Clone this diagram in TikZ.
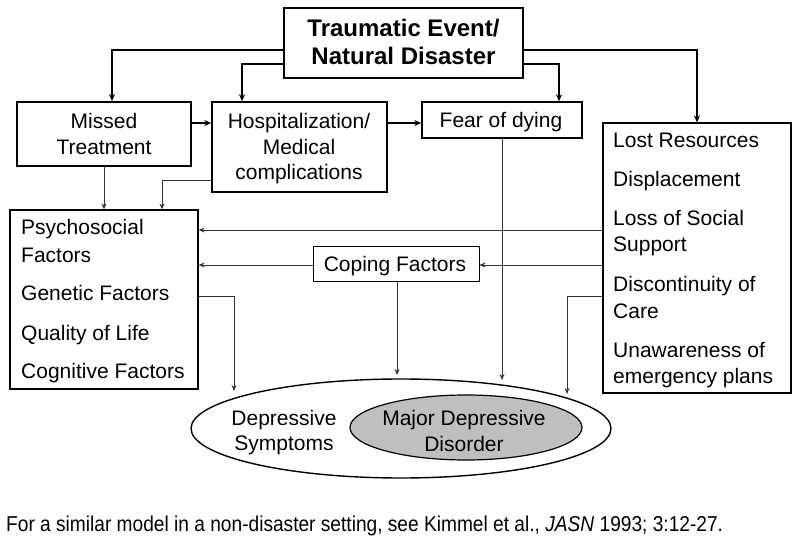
\documentclass[tikz,border=0pt]{standalone}
\usepackage{fontspec}
\setmainfont{Liberation Sans}
\newfontfamily\narrowfont[FakeStretch=0.89]{Liberation Sans}
\usetikzlibrary{shapes.geometric,arrows.meta}
\tikzset{
  box/.style={draw, rectangle, inner sep=0pt, line width=1.2pt},
  lt/.style={anchor=base west, inner sep=0pt, font=\fontsize{21}{25.5}\selectfont},
  ct/.style={anchor=base, inner sep=0pt, font=\fontsize{21}{25.5}\selectfont},
  tt/.style={anchor=base, inner sep=0pt, font=\bfseries\fontsize{24}{28}\selectfont},
  arr/.style={-{Stealth[length=7pt,width=6pt]}, line width=1.4pt},
  arrl/.style={-{Stealth[length=6pt,width=5pt]}, line width=0.9pt, draw=black!80},
}
\begin{document}
\begin{tikzpicture}[x=1pt,y=-1pt]
\useasboundingbox (0,0) rectangle (800,537);
% boxes
\node[box, line width=2.6pt, minimum width=239pt, minimum height=70pt] (T) at (403.5,43) {};
\node[box, line width=1.8pt, minimum width=174pt, minimum height=64pt] (M) at (104,134) {};
\node[box, line width=1.4pt, minimum width=175pt, minimum height=90pt] (H) at (299.5,147) {};
\node[box, line width=1.4pt, minimum width=160pt, minimum height=36pt] (F) at (502,120) {};
\node[box, minimum width=188pt, minimum height=270pt] (L) at (697,258) {};
\node[box, minimum width=188pt, minimum height=179pt] (P) at (104,299.5) {};
\node[box, line width=0.9pt, minimum width=166pt, minimum height=35pt] (C) at (396,263.5) {};
% box texts
\node[tt] (t1) at (403.5,37) {Traumatic Event/};
\node[tt] (t2) at (403.5,65) {Natural Disaster};
\node[ct] (m1) at (104,129) {Missed};
\node[ct] (m2) at (104,155) {Treatment};
\node[ct] (h1) at (299,129) {Hospitalization/};
\node[ct] (h2) at (299,155) {Medical};
\node[ct] (h3) at (299,180) {complications};
\node[ct] (f1) at (501,127.5) {Fear of dying};
\node[ct] (c1) at (395,272) {Coping Factors};
% list texts right
\node[lt] (l1) at (613,148) {Lost Resources};
\node[lt] (l2) at (613,187) {Displacement};
\node[lt] (l3) at (613,226) {Loss of Social};
\node[lt] (l4) at (613,252) {Support};
\node[lt] (l5) at (613,291) {Discontinuity of};
\node[lt] (l6) at (613,318) {Care};
\node[lt] (l7) at (613,357) {Unawareness of};
\node[lt] (l8) at (613,383) {emergency plans};
% list texts left
\node[lt] (p1) at (21,235) {Psychosocial};
\node[lt] (p2) at (21,262) {Factors};
\node[lt] (p3) at (21,301) {Genetic Factors};
\node[lt] (p4) at (21,340) {Quality of Life};
\node[lt] (p5) at (21,378) {Cognitive Factors};
% ellipses
\node[draw, ellipse, line width=1.4pt, inner sep=0pt, minimum width=420pt, minimum height=99pt] (E) at (401,428.5) {};
\node[draw, ellipse, line width=1.2pt, fill=black!25, inner sep=0pt, minimum width=232pt, minimum height=65pt] (D) at (466,427.5) {};
\node[ct] (d1) at (464,425) {Major Depressive};
\node[ct] (d2) at (464,451.5) {Disorder};
\node[ct] (s1) at (284,425) {Depressive};
\node[ct] (s2) at (284,450.5) {Symptoms};
% footnote
\node[anchor=base west, inner sep=0pt, font=\narrowfont\fontsize{21.5}{24}\selectfont] (fn) at (6,531)
  {For a similar model in a non-disaster setting, see Kimmel et al., \textit{JASN} 1993; 3:12-27.};
% endpoints
\coordinate (eF) at (502,380);
\coordinate (eC) at (397,375);
\coordinate (eP) at (234,391);
\coordinate (eL) at (567,394);
% connectors upper
\draw[arr] (T.west |- 0,50) -| ([xshift=8pt]M.north);
\draw[arr] (T.west |- 0,64) -| ([xshift=-57.5pt]H.north);
\draw[arr] (T.east |- 0,50) -| (L.north);
\draw[arr] (T.east |- 0,64) -| ([xshift=57pt]F.north);
\draw[arr] (M.east |- 0,123) -- (H.west |- 0,123);
\draw[arr] (H.east |- 0,123) -- (F.west |- 0,123);
% connectors lower
\draw[arrl] (M.south) -- (P.north);
\draw[arrl] (H.west |- 0,180) -| ([xshift=58pt]P.north);
\draw[arrl] (F.south) -- (eF);
\draw[arrl] (L.west |- 0,230) -- (P.east |- 0,230);
\draw[arrl] (L.west |- 0,265) -- (C.east |- 0,265);
\draw[arrl] (C.west |- 0,265) -- (P.east |- 0,265);
\draw[arrl] ([xshift=1pt]C.south) -- (eC);
\draw[arrl] (P.east |- 0,296) -| (eP);
\draw[arrl] (L.west |- 0,296) -| (eL);
\end{tikzpicture}
\end{document}
